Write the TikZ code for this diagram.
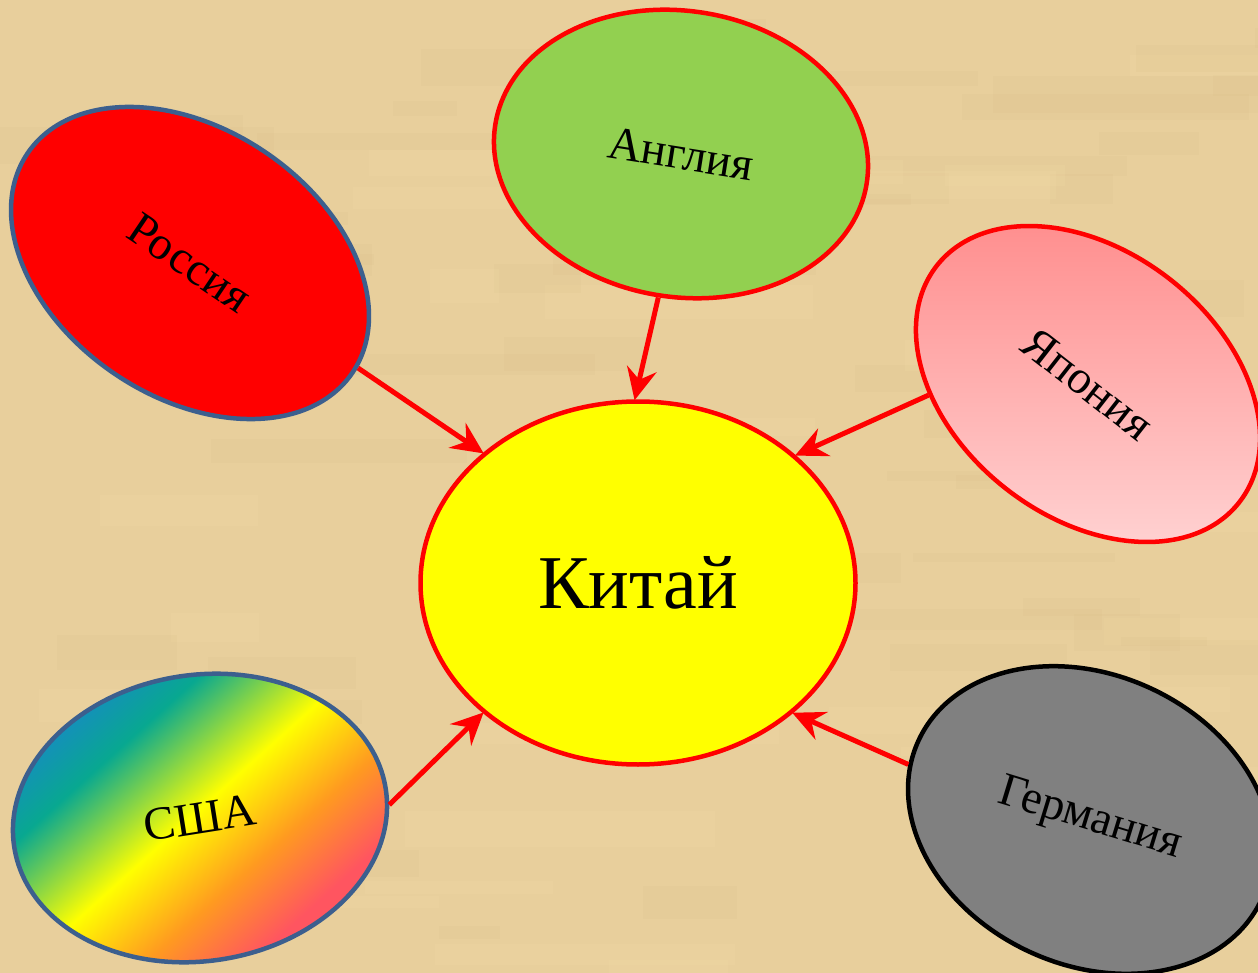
\documentclass[tikz,border=0pt]{standalone}
\usepackage{fontspec}
\setmainfont{Liberation Serif}
\usetikzlibrary{shapes.geometric,arrows.meta}
\definecolor{bgbase}{HTML}{E8CF9C}
\definecolor{bglight}{HTML}{F5DEA8}
\definecolor{bgdark}{HTML}{D6BA85}
\definecolor{rusfill}{HTML}{FF0000}
\definecolor{blueedge}{HTML}{3C5F8E}
\definecolor{engfill}{HTML}{92D050}
\definecolor{chinafill}{HTML}{FFFF00}
\definecolor{jtop}{HTML}{FF8E8E}
\definecolor{jbot}{HTML}{FFD2D2}
\definecolor{gerfill}{HTML}{808080}
\definecolor{ucA}{HTML}{1888C8}
\definecolor{ucB}{HTML}{08A890}
\definecolor{ucC}{HTML}{FFFF00}
\definecolor{ucD}{HTML}{FF9A20}
\definecolor{ucE}{HTML}{FF5560}
\pgfdeclarehorizontalshading{usarainbow}{100bp}{color(0bp)=(ucA); color(25bp)=(ucA); color(35bp)=(ucB); color(49bp)=(ucC); color(60bp)=(ucD); color(70bp)=(ucE); color(100bp)=(ucE)}
\tikzset{
  country/.style={ellipse, draw, line width=4.5pt, inner sep=0pt, font=\fontsize{47}{52}\selectfont, text=black},
  arr/.style={draw=red, line width=5pt, -{Stealth[length=32pt,width=30pt,inset=11pt]}, shorten >=-1pt},
}
\begin{document}
\begin{tikzpicture}[x=1pt,y=-1pt]
\useasboundingbox (0,0) rectangle (1258,973);
\clip (0,0) rectangle (1258,973);
\fill[bgbase] (0,0) rectangle (1258,973);
\pgfmathsetseed{7}
\foreach \i in {1,...,90}{
  \pgfmathsetmacro{\px}{rnd*1258}
  \pgfmathsetmacro{\py}{rnd*973}
  \pgfmathsetmacro{\pw}{60+rnd*260}
  \pgfmathsetmacro{\ph}{8+rnd*30}
  \pgfmathsetmacro{\pc}{rnd}
  \ifdim\pc pt>0.5pt
    \fill[bglight, opacity=0.18] (\px,\py) rectangle ++(\pw,\ph);
  \else
    \fill[bgdark, opacity=0.13] (\px,\py) rectangle ++(\pw,\ph);
  \fi
}
\begin{scope}
  \clip[rotate around={-38:(1088,384)}] (1088,384) ellipse [x radius=192, y radius=133];
  \shade[top color=jtop, bottom color=jbot] (880,220) rectangle (1300,550);
\end{scope}
\node[country, draw=blueedge, fill=rusfill, minimum width=392pt, minimum height=268pt, rotate=-34] (rus) at (190,263) {Россия};
\node[country, draw=red, fill=engfill, minimum width=376pt, minimum height=286pt, rotate=-9] (eng) at (681,154) {Англия};
\node[country, draw=red, minimum width=384pt, minimum height=266pt, rotate=-38] (jap) at (1088,384) {Япония};
\node[country, draw=red, fill=chinafill, minimum width=435pt, minimum height=363pt, font=\fontsize{76}{80}\selectfont] (china) at (638,583) {Китай};
\node[country, draw=blueedge, shading=usarainbow, shading angle=-48, minimum width=376pt, minimum height=286pt, rotate=9] (usa) at (200,818) {США};
\node[country, draw=black, fill=gerfill, minimum width=378pt, minimum height=290pt, rotate=-25] (ger) at (1090,820) {\rotatebox{8}{Германия}};
\draw[arr] (rus.2) -- (china.140);
\draw[arr] (eng.-90) -- (china.91);
\draw[arr] (jap.-138) -- (china.39);
\draw[arr] (usa.-5) -- (china.220);
\draw[arr] (ger.188) -- (china.-40);
\end{tikzpicture}
\end{document}
